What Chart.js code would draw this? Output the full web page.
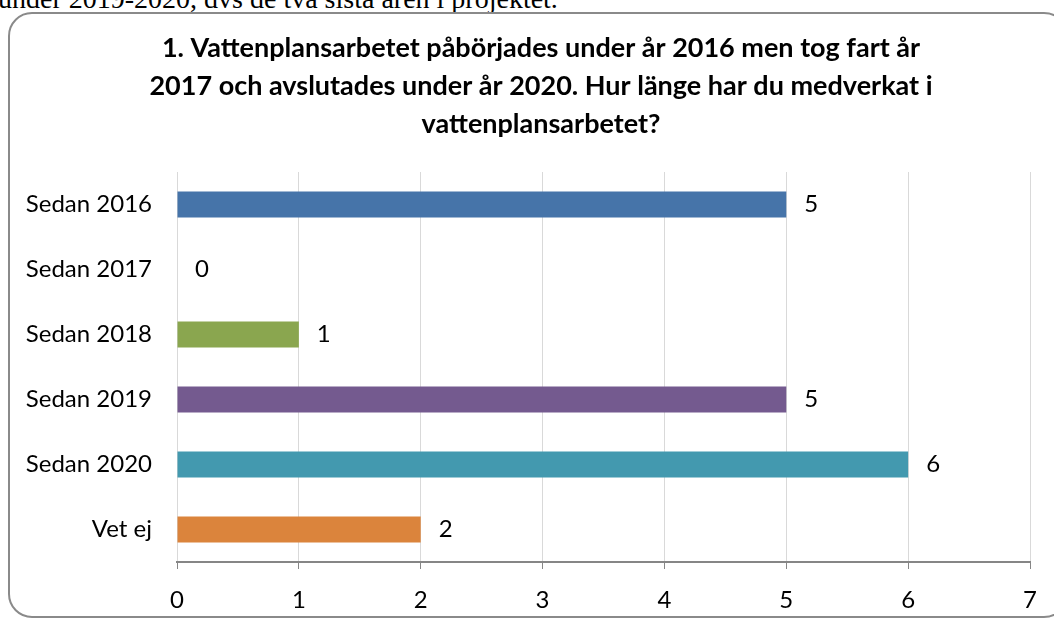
<!DOCTYPE html>
<html>
<head>
<meta charset="utf-8">
<script src="https://cdn.jsdelivr.net/npm/chart.js@4/dist/chart.umd.min.js"></script>
<style>
  html, body { margin: 0; padding: 0; background: #fff; overflow: hidden; }
  body { width: 1054px; height: 619px; position: relative; }
  #note {
    position: absolute; left: -2px; top: -15px;
    font-family: "Liberation Serif", serif; font-size: 28px; line-height: 1;
    white-space: nowrap; color: #000;
  }
  #frame {
    position: absolute; left: 8px; top: 12px; width: 1060px; height: 606px;
    border: 2px solid #8a8a8a; border-radius: 24px; box-sizing: border-box;
  }
  /* canvasen är bredare än fönstret så att titeln hamnar centrerad som i originalet */
  #wrap { position: absolute; left: 0; top: 0; width: 1082px; height: 619px; }
</style>
</head>
<body>
<div id="note">under 2019-2020, dvs de två sista åren i projektet.</div>
<div id="frame"></div>
<div id="wrap"><canvas id="chart"></canvas></div>
<script>
const categories = ['Sedan 2016', 'Sedan 2017', 'Sedan 2018', 'Sedan 2019', 'Sedan 2020', 'Vet ej']
const counts = [5, 0, 1, 5, 6, 2]
const barColors = ['#4674a9', '#4674a9', '#8aa64f', '#745a8f', '#4399af', '#db843c']
const xTicks = [0, 1, 2, 3, 4, 5, 6, 7]
const titleLines = [
  '1. Vattenplansarbetet påbörjades under år 2016 men tog fart år',
  '2017 och avslutades under år 2020. Hur länge har du medverkat i',
  'vattenplansarbetet?'
]

const FONT = 'Lato'

// skriver värdet till höger om varje stapel
const valueLabels = {
  id: 'valueLabels',
  afterDatasetsDraw(chart) {
    const ctx = chart.ctx
    const meta = chart.getDatasetMeta(0)
    ctx.save()
    ctx.font = '24px ' + FONT
    ctx.fillStyle = '#000'
    ctx.textAlign = 'left'
    ctx.textBaseline = 'middle'
    meta.data.forEach((bar, i) => {
      ctx.fillText(String(counts[i]), bar.x + 18, bar.y)
    })
    ctx.restore()
  }
}

new Chart(document.getElementById('chart'), {
  type: 'bar',
  data: {
    labels: categories,
    datasets: [{
      data: counts,
      backgroundColor: barColors,
      borderWidth: 0,
      barPercentage: 0.8,
      categoryPercentage: 0.5
    }]
  },
  options: {
    indexAxis: 'y',
    responsive: true,
    maintainAspectRatio: false,
    animation: false,
    layout: { padding: 0 },
    plugins: {
      legend: { display: false },
      tooltip: { enabled: false },
      title: {
        display: true,
        text: titleLines,
        color: '#000',
        font: { family: FONT, size: 27, weight: 'bold', lineHeight: 38 / 27 },
        padding: { top: 29, bottom: 29 }
      }
    },
    scales: {
      x: {
        min: 0,
        max: 7,
        afterBuildTicks(scale) {
          scale.ticks = xTicks.map(v => ({ value: v }))
        },
        afterFit(scale) { scale.height = 57 },
        grid: { color: '#d9d9d9', tickColor: '#868686', tickLength: 7, lineWidth: 1 },
        border: { display: true, color: '#868686', width: 2 },
        ticks: { color: '#000', font: { family: FONT, size: 24 }, padding: 17 }
      },
      y: {
        afterFit(scale) { scale.width = 177 },
        grid: { display: false, drawTicks: false, tickLength: 0 },
        border: { display: false },
        ticks: { color: '#000', font: { family: FONT, size: 24 }, padding: 25 }
      },
      // tom axel till höger, bara för att hålla plats
      yRight: {
        type: 'category',
        position: 'right',
        afterFit(scale) { scale.width = 52 },
        grid: { display: false, drawTicks: false },
        border: { display: false },
        ticks: { display: false }
      }
    }
  },
  plugins: [valueLabels]
})
</script>
</body>
</html>
